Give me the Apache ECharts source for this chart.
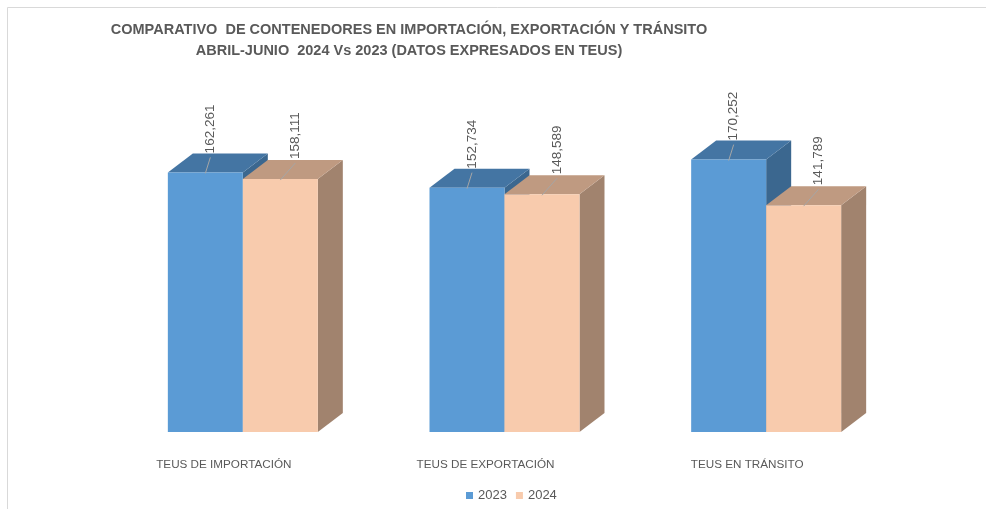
<!DOCTYPE html>
<html>
<head>
<meta charset="utf-8">
<script src="https://cdn.jsdelivr.net/npm/echarts@6/dist/echarts.min.js"></script>
<style>html,body{margin:0;padding:0;background:#fff}#c{width:986px;height:509px}</style>
</head>
<body>
<div id="c"></div>
<script>
const titleLines = ['COMPARATIVO  DE CONTENEDORES EN IMPORTACIÓN, EXPORTACIÓN Y TRÁNSITO', 'ABRIL-JUNIO  2024 Vs 2023 (DATOS EXPRESADOS EN TEUS)'];
const categories = ['TEUS DE IMPORTACIÓN', 'TEUS DE EXPORTACIÓN', 'TEUS EN TRÁNSITO'];
const seriesNames = ['2023', '2024'];
const values2023 = [162261, 152734, 170252];
const values2024 = [158111, 148589, 141789];

const FONT = '"Liberation Sans", Arial, sans-serif';
const palettes = [
  { front: '#5B9BD5', top: '#4475A3', side: '#3B678F' },
  { front: '#F8CBAD', top: '#BF9A81', side: '#A1836E' }
];
const labelOffsets = [[5, -19], [15, -20]];

function makeRender(si) {
  const pal = palettes[si];
  return function (params, api) {
    const cat = api.value(0), val = api.value(1);
    const p = api.coord([cat, val]);
    const b = api.coord([cat, 0]);
    const bw = api.size([1, 0])[0];
    const w = bw * 0.2866;
    const x0 = p[0] - bw * 0.214 + si * w;
    const x1 = x0 + w;
    const yT = p[1], yB = b[1];
    const dx = 25, dy = 19;
    const cx = (x0 + x1) / 2;
    const lx = cx + labelOffsets[si][0], ly = yT + labelOffsets[si][1];
    return {
      type: 'group',
      children: [
        { type: 'polygon', shape: { points: [[x1, yT], [x1 + dx, yT - dy], [x1 + dx, yB - dy], [x1, yB]] }, style: { fill: pal.side } },
        { type: 'polygon', shape: { points: [[x0, yT], [x0 + dx, yT - dy], [x1 + dx, yT - dy], [x1, yT]] }, style: { fill: pal.top } },
        { type: 'rect', shape: { x: x0, y: yT, width: w, height: yB - yT }, style: { fill: pal.front } },
        { type: 'line', shape: { x1: cx, y1: yT + 1, x2: lx, y2: ly + 4 }, style: { stroke: '#A6A6A6', lineWidth: 1 } },
        { type: 'text', x: lx, y: ly, rotation: Math.PI / 2,
          style: { text: val.toLocaleString('en-US'), fill: '#595959', font: '13.5px ' + FONT, align: 'left', verticalAlign: 'middle' } }
      ]
    };
  };
}

const chart = echarts.init(document.getElementById('c'), null, { renderer: 'canvas' });
chart.setOption({
  backgroundColor: '#ffffff',
  animation: false,
  graphic: [
    { type: 'rect', shape: { x: 7.5, y: 7.5, width: 1200, height: 800 }, style: { fill: 'none', stroke: '#D9D9D9', lineWidth: 1 } },
    { type: 'text', x: 409, y: 30, style: { text: titleLines[0], fill: '#595959', font: 'bold 14.5px ' + FONT, align: 'center', verticalAlign: 'middle' } },
    { type: 'text', x: 409, y: 51, style: { text: titleLines[1], fill: '#595959', font: 'bold 14.5px ' + FONT, align: 'center', verticalAlign: 'middle' } }
  ],
  legend: {
    data: seriesNames,
    left: 461, top: 484,
    icon: 'rect', itemWidth: 7, itemHeight: 7, itemGap: 9,
    textStyle: { color: '#595959', fontSize: 13, fontFamily: FONT }
  },
  grid: { left: 93, right: 108, top: 112, bottom: 77 },
  xAxis: {
    type: 'category', data: categories,
    axisLine: { show: false }, axisTick: { show: false },
    axisLabel: { color: '#595959', fontSize: 11.7, fontFamily: FONT, margin: 27 }
  },
  yAxis: { type: 'value', min: 0, max: 200000, show: false, splitLine: { show: false } },
  series: [
    { name: seriesNames[0], type: 'custom', renderItem: makeRender(0), itemStyle: { color: palettes[0].front },
      data: values2023.map((v, i) => [i, v]), encode: { x: 0, y: 1 } },
    { name: seriesNames[1], type: 'custom', renderItem: makeRender(1), itemStyle: { color: palettes[1].front },
      data: values2024.map((v, i) => [i, v]), encode: { x: 0, y: 1 } }
  ]
});
</script>
</body>
</html>
